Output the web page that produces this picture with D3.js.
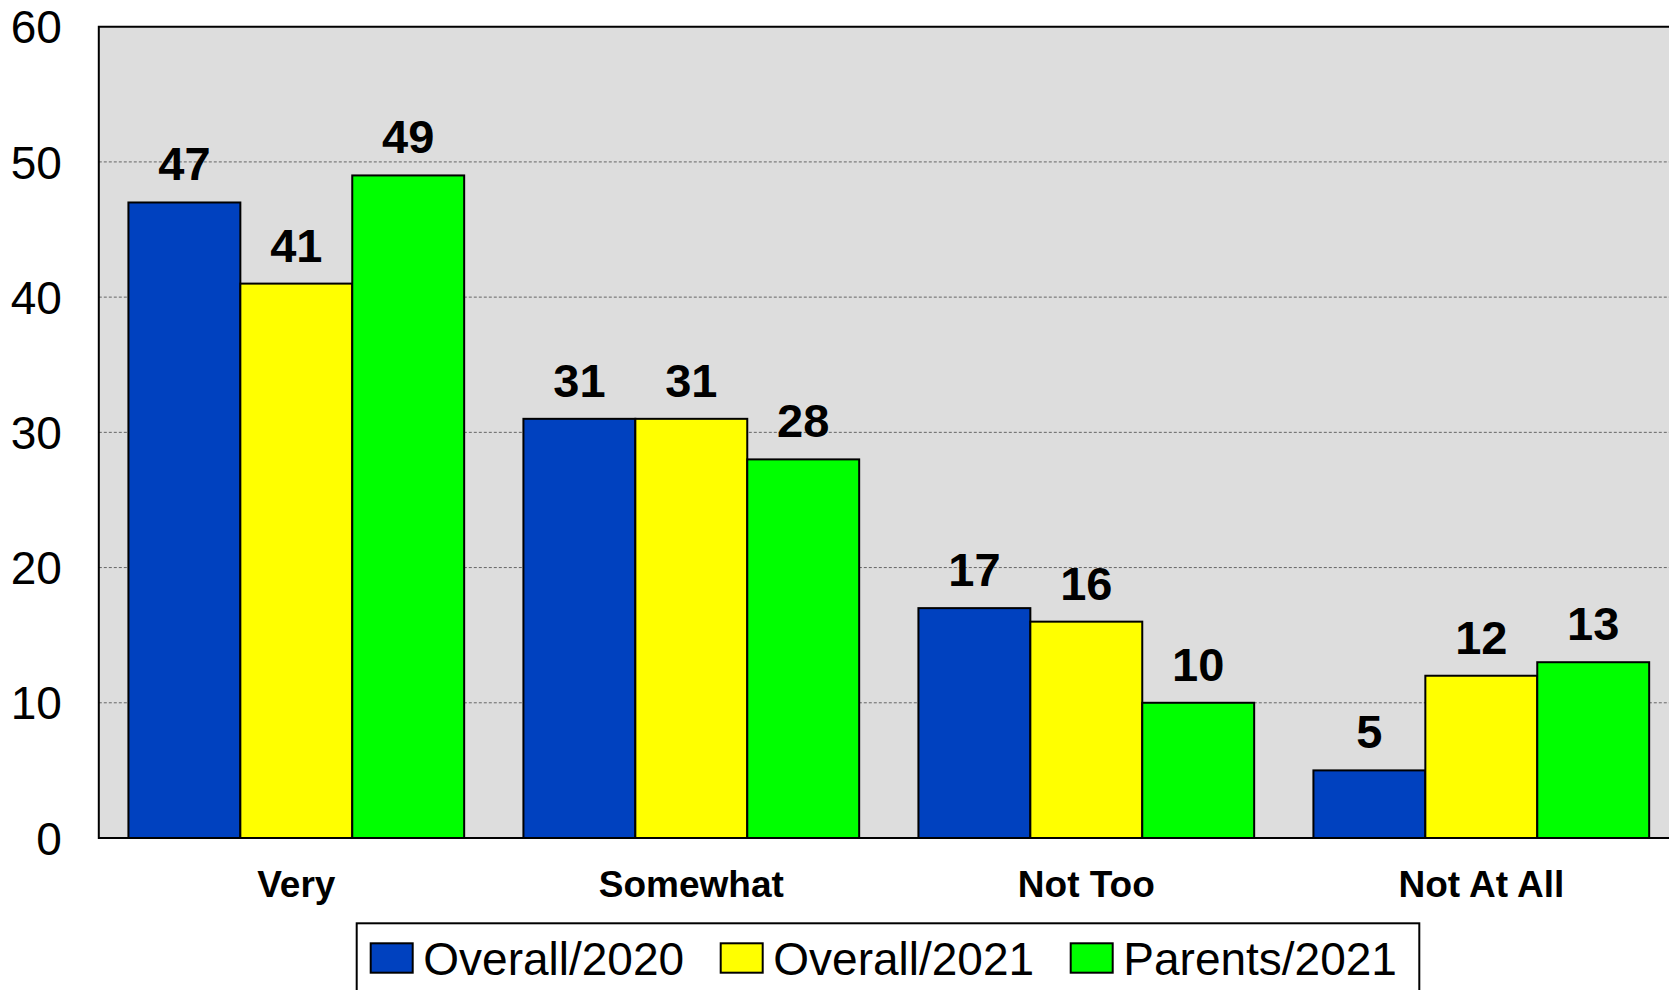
<!DOCTYPE html>
<html>
<head>
<meta charset="utf-8">
<script src="https://cdn.jsdelivr.net/npm/d3@7"></script>
<style>
html,body{margin:0;padding:0;background:#fff;}
svg{display:block;}
text{font-family:"Liberation Sans",Arial,sans-serif;}
</style>
</head>
<body>
<svg id="chart" width="1669" height="990"></svg>
<script>
const categories = ["Very", "Somewhat", "Not Too", "Not At All"];
const seriesNames = ["Overall/2020", "Overall/2021", "Parents/2021"];
const overall2020 = [47, 31, 17, 5];
const overall2021 = [41, 31, 16, 12];
const parents2021 = [49, 28, 10, 13];
const yTicks = [0, 10, 20, 30, 40, 50, 60];
const colors = ["#0041BF", "#FFFF00", "#00FF00"];

const seriesValues = [overall2020, overall2021, parents2021];

const svg = d3.select("#chart");
const pLeft = 98.8, pRight = 1678.8, pTop = 26.7, pBottom = 838;

const y = d3.scaleLinear().domain([0, 60]).range([pBottom, pTop]);
const x0 = d3.scaleBand().domain(categories).range([pLeft, pRight]).paddingInner(0.15).paddingOuter(0.075);
const x1 = d3.scaleBand().domain(seriesNames).range([0, x0.bandwidth()]).padding(0);
const color = d3.scaleOrdinal().domain(seriesNames).range(colors);

// plot background
svg.append("rect").attr("x", pLeft).attr("y", pTop).attr("width", pRight - pLeft).attr("height", pBottom - pTop).attr("fill", "#DDDDDD");

// gridlines
svg.append("g").selectAll("line").data(yTicks.filter(t => t > 0 && t < 60)).join("line")
  .attr("x1", pLeft).attr("x2", pRight)
  .attr("y1", d => y(d)).attr("y2", d => y(d))
  .attr("stroke", "#666").attr("stroke-width", 1).attr("stroke-dasharray", "3,2");

// bars
const groups = svg.append("g").selectAll("g").data(categories).join("g")
  .attr("transform", c => `translate(${x0(c)},0)`);

groups.selectAll("rect").data((c, i) => seriesNames.map((s, j) => ({s, v: seriesValues[j][i]}))).join("rect")
  .attr("x", d => x1(d.s)).attr("width", x1.bandwidth())
  .attr("y", d => y(d.v)).attr("height", d => y(0) - y(d.v))
  .attr("fill", d => color(d.s)).attr("stroke", "#000").attr("stroke-width", 2);

groups.selectAll("text").data((c, i) => seriesNames.map((s, j) => ({s, v: seriesValues[j][i]}))).join("text")
  .attr("x", d => x1(d.s) + x1.bandwidth() / 2)
  .attr("y", d => y(d.v) - 22)
  .attr("text-anchor", "middle")
  .attr("font-size", 47).attr("font-weight", "bold").attr("fill", "#000")
  .text(d => d.v);

// frame: left, top, bottom
svg.append("path")
  .attr("d", `M${pRight},${pTop}H${pLeft}V${pBottom}H${pRight}`)
  .attr("fill", "none").attr("stroke", "#000").attr("stroke-width", 2);

// y axis labels
const yAxis = d3.axisLeft(y).tickValues(yTicks).tickSize(0).tickPadding(37);
const ya = svg.append("g").attr("transform", `translate(${pLeft},0)`).call(yAxis);
ya.select(".domain").remove();
ya.selectAll("text").attr("font-size", 46).attr("fill", "#000")
  .attr("font-family", "'Liberation Sans', Arial, sans-serif").attr("dy", "0.35em");

// category labels
const xAxis = d3.axisBottom(x0).tickSize(0).tickPadding(0);
const xa = svg.append("g").attr("transform", `translate(0,${pBottom})`).call(xAxis);
xa.select(".domain").remove();
xa.selectAll("text").attr("font-size", 37).attr("font-weight", "bold").attr("fill", "#000")
  .attr("font-family", "'Liberation Sans', Arial, sans-serif")
  .attr("y", 58.7).attr("dy", null);

// legend
const lg = svg.append("g");
lg.append("rect").attr("x", 356.7).attr("y", 923.3).attr("width", 1419.3 - 356.7).attr("height", 100)
  .attr("fill", "#fff").attr("stroke", "#000").attr("stroke-width", 2);
const items = lg.selectAll("g").data(seriesNames).join("g")
  .attr("transform", (d, i) => `translate(${370.7 + i * 350},0)`);
items.append("rect").attr("x", 0).attr("y", 943.3).attr("width", 42).attr("height", 29.4)
  .attr("fill", d => color(d)).attr("stroke", "#000").attr("stroke-width", 2);
items.append("text").attr("x", 52.6).attr("y", 975).attr("font-size", 46).attr("fill", "#000").text(d => d);
</script>
</body>
</html>
